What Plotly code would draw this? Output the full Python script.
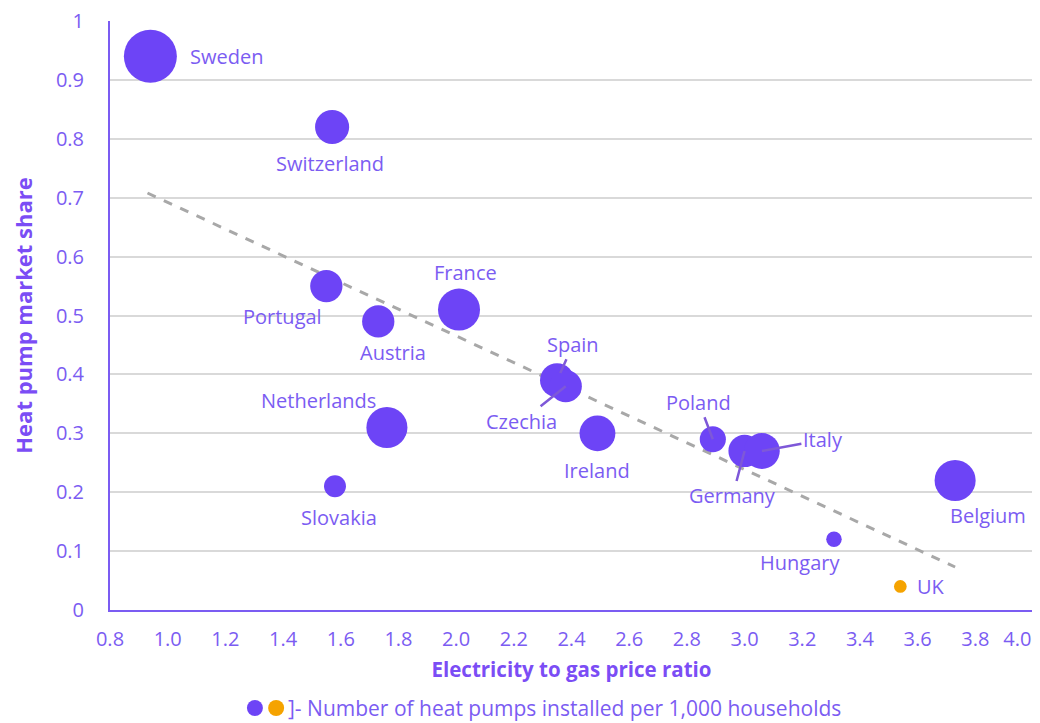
import plotly.graph_objects as go

countries = ["Sweden", "Switzerland", "Portugal", "Austria", "France", "Netherlands",
             "Slovakia", "Spain", "Czechia", "Ireland", "Poland", "Germany", "Italy",
             "Hungary", "UK", "Belgium"]
price_ratio = [0.94, 1.57, 1.55, 1.73, 2.01, 1.76, 1.58, 2.35, 2.38, 2.49, 2.89, 3.00, 3.06,
               3.31, 3.54, 3.73]
market_share = [0.94, 0.82, 0.55, 0.49, 0.51, 0.31, 0.21, 0.39, 0.38, 0.30, 0.29, 0.27, 0.27,
                0.12, 0.04, 0.22]
hp_per_1000 = [70, 29, 26, 26, 44, 42, 12, 29, 26, 32, 17, 26, 32, 6, 4, 42]
is_uk = [c == "UK" for c in countries]

trend_x = [0.93, 3.73]
trend_y = [0.708, 0.073]

x_ticks = [0.8, 1.0, 1.2, 1.4, 1.6, 1.8, 2.0, 2.2, 2.4, 2.6, 2.8, 3.0, 3.2, 3.4, 3.6, 3.8, 4.0]
x_tick_text = ["0.8", "1.0", "1.2", "1.4", "1.6", "1.8", "2.0", "2.2", "2.4", "2.6", "2.8",
               "3.0", "3.2", "3.4", "3.6", "3.8", "4.0"]
y_ticks = [0, 0.1, 0.2, 0.3, 0.4, 0.5, 0.6, 0.7, 0.8, 0.9, 1]
y_tick_text = ["0", "0.1", "0.2", "0.3", "0.4", "0.5", "0.6", "0.7", "0.8", "0.9", "1"]

# label offsets (pixels): (dx, dy, leader line)
label_pos = {
    "Sweden": (76, 0, False), "Switzerland": (-2, 36, False), "Portugal": (-44, 30, False),
    "Austria": (15, 31, False), "France": (6, -37, False), "Netherlands": (-68, -27, False),
    "Slovakia": (4, 31, False), "Spain": (16, -36, True), "Czechia": (-44, 35, True),
    "Ireland": (0, 37, False), "Poland": (-14, -37, True), "Germany": (-12, 45, True),
    "Italy": (61, -11, True), "Hungary": (-34, 23, False), "UK": (31, 0, False),
    "Belgium": (33, 35, False),
}

PURPLE = "#6D44F6"
ORANGE = "#F5A300"
TEXT = "#7B5CF2"
TITLE = "#7B4DF5"
FONT = "Open Sans"

fig = go.Figure()
fig.add_trace(go.Scatter(
    x=trend_x, y=trend_y, mode="lines",
    line=dict(color="#A8A8A8", width=3, dash="dash"), hoverinfo="skip", showlegend=False))

sizeref = 2 * max(hp_per_1000) / (53 ** 2)
fig.add_trace(go.Scatter(
    x=price_ratio, y=market_share, mode="markers", text=countries,
    marker=dict(size=hp_per_1000, sizemode="area", sizeref=sizeref,
                color=[ORANGE if u else PURPLE for u in is_uk], opacity=1,
                line=dict(width=0)),
    showlegend=False))

for c, xv, yv in zip(countries, price_ratio, market_share):
    dx, dy, lead = label_pos[c]
    fig.add_annotation(
        x=xv, y=yv, text=c, showarrow=True, ax=dx, ay=dy,
        arrowhead=0, arrowwidth=2.5,
        arrowcolor="#7E58D8" if lead else "rgba(0,0,0,0)",
        standoff=8 if c == "Spain" else 0,
        font=dict(family=FONT, size=20, color=TEXT))

# size-key legend at bottom
LEG_Y = -0.1664
for px, col in [(0.157, PURPLE), (0.180, ORANGE)]:
    fig.add_shape(type="circle", xref="paper", yref="paper",
                  xsizemode="pixel", ysizemode="pixel",
                  xanchor=px, yanchor=LEG_Y, x0=-8, x1=8, y0=-8, y1=8,
                  fillcolor=col, line=dict(width=0))
fig.add_annotation(
    xref="paper", yref="paper", x=0.1907, y=LEG_Y, xanchor="left", yanchor="middle",
    showarrow=False, text="]- Number of heat pumps installed per 1,000 households",
    font=dict(family=FONT, size=21, color=TEXT))

# last x label nudged left so it stays inside the page, as in the original
x_tick_labels = x_tick_text[:-1] + [x_tick_text[-1] + "\u00a0" * 6]

fig.update_layout(
    width=1032, height=715,
    margin=dict(l=102, r=7, t=13, b=113),
    paper_bgcolor="white", plot_bgcolor="white",
    font=dict(family=FONT, size=20, color=TEXT),
    xaxis=dict(range=[0.8, 4.0], tickvals=x_ticks, ticktext=x_tick_labels, showgrid=False,
               zeroline=False, showline=True, linecolor=TEXT, linewidth=2,
               ticks="outside", ticklen=10, tickcolor="rgba(0,0,0,0)", tickangle=0,
               ticklabeloverflow="allow", automargin=False,
               tickfont=dict(size=20, color=TEXT),
               title=dict(text="<b>Electricity to gas price ratio</b>",
                          font=dict(size=20.5, color=TITLE), standoff=12)),
    yaxis=dict(range=[0, 1], tickvals=y_ticks, ticktext=y_tick_text, showgrid=True,
               gridcolor="#D9D9D9", gridwidth=1.5, zeroline=False, showline=True,
               linecolor=TEXT, linewidth=2, ticks="outside", ticklen=20,
               tickcolor="rgba(0,0,0,0)", ticklabeloverflow="allow", automargin=False,
               tickfont=dict(size=20, color=TEXT),
               title=dict(text="<b>Heat pump market share</b>",
                          font=dict(size=22, color=TITLE), standoff=18)),
)

fig.write_html("out.html")
